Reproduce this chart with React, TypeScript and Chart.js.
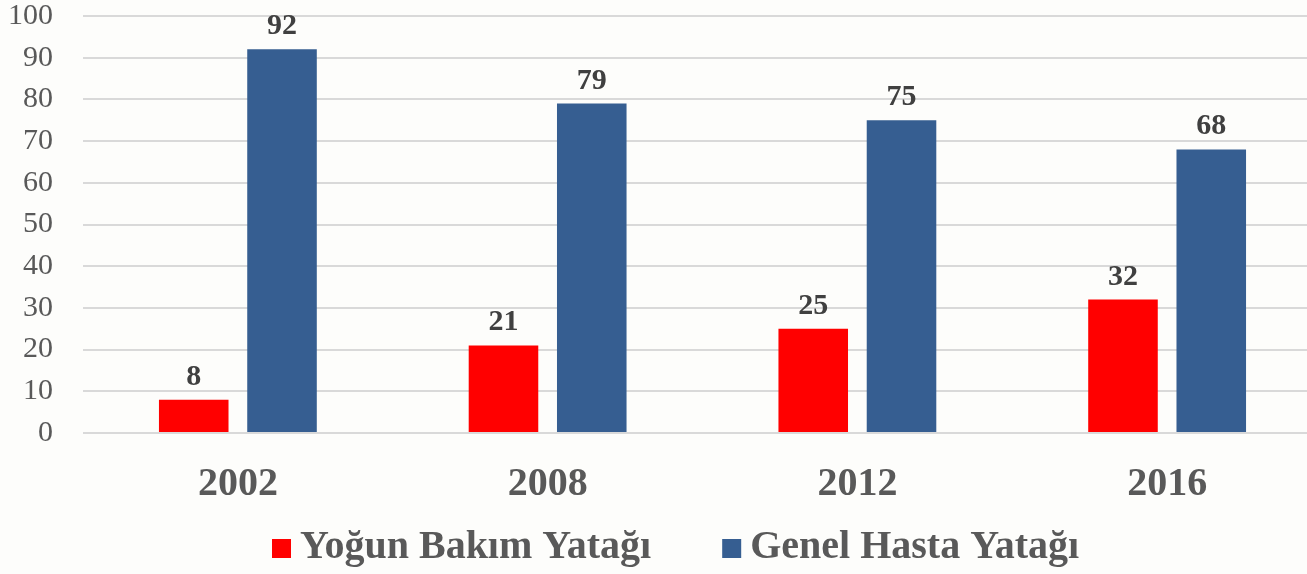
import React, { useEffect, useRef } from "react";
import { Chart, registerables } from "chart.js";

Chart.register(...registerables);

const categories = ["2002", "2008", "2012", "2016"];
const yogunBakim = [8, 21, 25, 32];
const genelHasta = [92, 79, 75, 68];
const seriesLabels = ["Yoğun Bakım Yatağı", "Genel Hasta Yatağı"];
const seriesColors = ["#FF0000", "#365E91"];

const FONT = "'Times New Roman', 'Liberation Serif', serif";

const valueLabelPlugin = {
  id: "valueLabels",
  afterDatasetsDraw(chart: any) {
    const ctx = chart.ctx;
    ctx.save();
    ctx.font = `bold 30px ${FONT}`;
    ctx.fillStyle = "#404040";
    ctx.textAlign = "center";
    ctx.textBaseline = "alphabetic";
    chart.data.datasets.forEach((ds: any, i: number) => {
      const meta = chart.getDatasetMeta(i);
      meta.data.forEach((el: any, j: number) => {
        ctx.fillText(String(ds.data[j]), el.x, el.y - 15);
      });
    });
    ctx.restore();
  },
};

const customLegendPlugin = {
  id: "customLegend",
  afterDraw(chart: any) {
    const ctx = chart.ctx;
    ctx.save();
    ctx.font = `bold 40px ${FONT}`;
    ctx.textAlign = "left";
    ctx.textBaseline = "alphabetic";
    let x = 272;
    const boxTop = 539;
    const box = 19;
    const baseline = 558;
    chart.data.datasets.forEach((ds: any) => {
      ctx.fillStyle = ds.backgroundColor;
      ctx.fillRect(x, boxTop, box, box);
      ctx.fillStyle = "#595959";
      const tx = x + box + 9;
      ctx.fillText(ds.label, tx, baseline);
      x = tx + ctx.measureText(ds.label).width + 71;
    });
    ctx.restore();
  },
};

export default function App() {
  const ref = useRef<HTMLCanvasElement | null>(null);

  useEffect(() => {
    document.body.style.margin = "0";
    document.body.style.background = "#FDFDFB";
    if (!ref.current) return;
    const chart = new Chart(ref.current, {
      type: "bar",
      data: {
        labels: categories,
        datasets: [
          {
            label: seriesLabels[0],
            data: yogunBakim,
            backgroundColor: seriesColors[0],
            categoryPercentage: 0.57,
            barPercentage: 0.788,
          },
          {
            label: seriesLabels[1],
            data: genelHasta,
            backgroundColor: seriesColors[1],
            categoryPercentage: 0.57,
            barPercentage: 0.788,
          },
        ],
      },
      options: {
        responsive: false,
        animation: false,
        devicePixelRatio: 1,
        layout: { padding: { top: 16, bottom: 60, left: 0, right: 0 } },
        plugins: {
          legend: { display: false },
          tooltip: { enabled: false },
        },
        scales: {
          x: {
            grid: { display: false },
            border: { display: false },
            ticks: {
              color: "#595959",
              font: { family: FONT, size: 40, weight: "bold", lineHeight: 1.2 },
              padding: 20,
            },
            afterFit: (scale: any) => {
              scale.height = 81;
            },
          },
          y: {
            min: 0,
            max: 100,
            grid: { color: "#D9D9D9", lineWidth: 2, drawTicks: false },
            border: { display: false },
            ticks: {
              stepSize: 10,
              color: "#595959",
              font: { family: FONT, size: 30, lineHeight: 1 },
              padding: 30,
            },
            afterFit: (scale: any) => {
              scale.width = 83;
              scale.paddingTop = 0;
              scale.paddingBottom = 0;
            },
          },
        },
      },
      plugins: [valueLabelPlugin, customLegendPlugin],
    });
    return () => chart.destroy();
  }, []);

  return (
    <div style={{ width: 1307, height: 574, overflow: "hidden", background: "#FDFDFB" }}>
      <canvas ref={ref} width={1322} height={574} style={{ display: "block" }} />
    </div>
  );
}
